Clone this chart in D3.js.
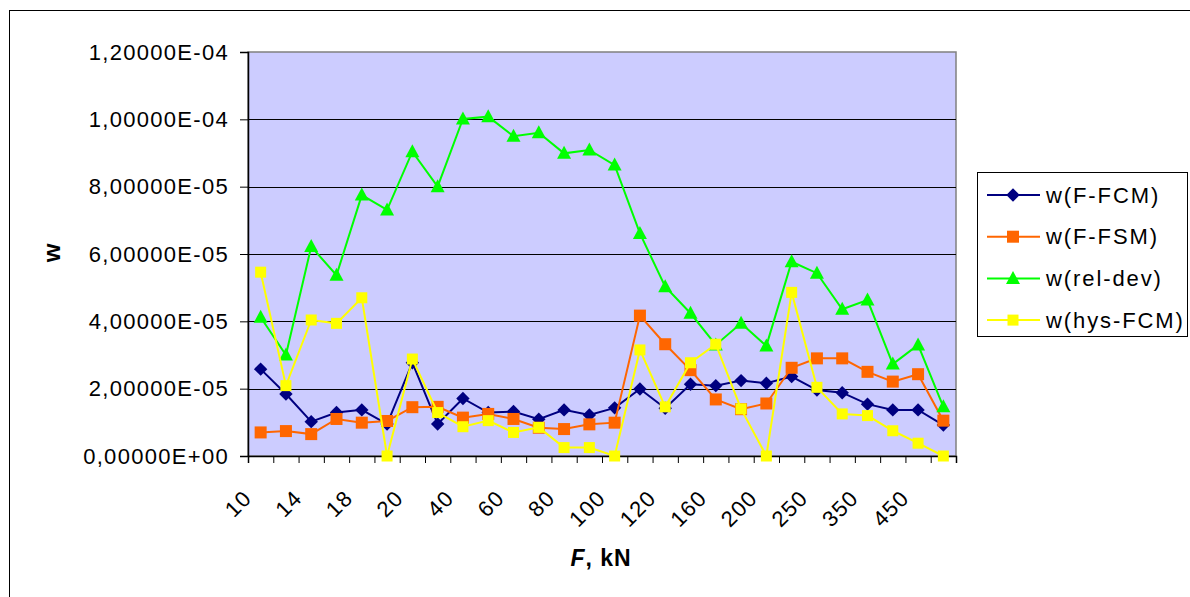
<!DOCTYPE html>
<html><head><meta charset="utf-8">
<script src="https://cdn.jsdelivr.net/npm/d3@7"></script>
<style>
body{margin:0;background:#fff;}
text{font-family:"Liberation Sans",Arial,sans-serif;}
</style>
</head><body>
<svg id="c" width="1190" height="597"></svg>
<script>
const categories = ["10","12","14","16","18","19","20","30","40","50","60","70","80","90","100","110","120","140","160","180","200","225","250","300","350","400","450","500"];
const wFFCM = [2.58e-5,1.84e-5,1.02e-5,1.29e-5,1.37e-5,0.95e-5,2.77e-5,0.95e-5,1.71e-5,1.29e-5,1.32e-5,1.09e-5,1.37e-5,1.22e-5,1.43e-5,1.99e-5,1.42e-5,2.13e-5,2.09e-5,2.24e-5,2.16e-5,2.36e-5,1.96e-5,1.88e-5,1.54e-5,1.37e-5,1.37e-5,0.92e-5];
const wFFSM = [0.70e-5,0.74e-5,0.65e-5,1.10e-5,0.99e-5,1.04e-5,1.45e-5,1.46e-5,1.14e-5,1.25e-5,1.10e-5,0.84e-5,0.80e-5,0.94e-5,0.99e-5,4.17e-5,3.32e-5,2.55e-5,1.68e-5,1.39e-5,1.56e-5,2.62e-5,2.90e-5,2.90e-5,2.50e-5,2.21e-5,2.43e-5,1.05e-5];
const wRelDev = [4.12e-5,3.00e-5,6.22e-5,5.37e-5,7.75e-5,7.31e-5,9.04e-5,8.00e-5,1.001e-4,1.008e-4,9.50e-5,9.60e-5,8.99e-5,9.09e-5,8.64e-5,6.61e-5,5.03e-5,4.24e-5,3.30e-5,3.94e-5,3.27e-5,5.77e-5,5.43e-5,4.36e-5,4.63e-5,2.73e-5,3.30e-5,1.46e-5];
const wHysFCM = [5.46e-5,2.09e-5,4.04e-5,3.94e-5,4.70e-5,0,2.88e-5,1.29e-5,0.87e-5,1.05e-5,0.70e-5,0.85e-5,0.25e-5,0.25e-5,0,3.15e-5,1.46e-5,2.77e-5,3.32e-5,1.40e-5,0,4.86e-5,2.04e-5,1.25e-5,1.20e-5,0.75e-5,0.38e-5,0];
const seriesNames = ["w(F-FCM)","w(F-FSM)","w(rel-dev)","w(hys-FCM)"];
const yTickValues = [0,2e-5,4e-5,6e-5,8e-5,1e-4,1.2e-4];
const yTickLabels = ["0,00000E+00","2,00000E-05","4,00000E-05","6,00000E-05","8,00000E-05","1,00000E-04","1,20000E-04"];

const series = [
  {name:seriesNames[0], values:wFFCM, color:"#000080", marker:"diamond"},
  {name:seriesNames[1], values:wFFSM, color:"#FF6600", marker:"square"},
  {name:seriesNames[2], values:wRelDev, color:"#00FF00", marker:"triangle"},
  {name:seriesNames[3], values:wHysFCM, color:"#FFFF00", marker:"squareSmall"}
];

const svg = d3.select("#c");
const L=248, R=956, T=52, B=456;
const x = d3.scaleBand().domain(d3.range(categories.length)).range([L,R]);
const xt = d3.scaleLinear().domain([0,categories.length]).range([L,R]);
const y = d3.scaleLinear().domain([0,1.2e-4]).range([B,T]);
const cx = i => x(i) + x.bandwidth()/2;

// outer border
svg.append("rect").attr("x",9.5).attr("y",10.5).attr("width",1200).attr("height",600)
  .attr("fill","#fff").attr("stroke","#000").attr("stroke-width",1);

// plot area
svg.append("rect").attr("x",L).attr("y",T).attr("width",R-L).attr("height",B-T)
  .attr("fill","#CCCCFF").attr("stroke","#808080").attr("stroke-width",1.5);

// gridlines
svg.append("g").selectAll("line").data(yTickValues.slice(1,-1)).join("line")
  .attr("x1",L).attr("x2",R).attr("y1",d=>Math.round(y(d))+0.5).attr("y2",d=>Math.round(y(d))+0.5)
  .attr("stroke","#000").attr("stroke-width",1);

// y axis
const yAxis = d3.axisLeft(y).tickValues(yTickValues).tickSize(8).tickPadding(11)
  .tickFormat((d,i)=>yTickLabels[i]);
const gy = svg.append("g").attr("transform",`translate(${L},0)`).call(yAxis);
gy.select(".domain").attr("stroke","#000").attr("stroke-width",1.5);
gy.selectAll(".tick line").attr("stroke","#000");
gy.selectAll(".tick text").attr("font-size",22).attr("letter-spacing","1.3px")
  .attr("fill","#000").style("font-family","'Liberation Sans',Arial,sans-serif");

// x axis ticks (category boundaries)
const xAxis = d3.axisBottom(xt).tickValues(d3.range(categories.length+1)).tickSize(7).tickFormat("");
const gx = svg.append("g").attr("transform",`translate(0,${B})`).call(xAxis);
gx.select(".domain").attr("stroke","#000").attr("stroke-width",1.5);
gx.selectAll(".tick line").attr("stroke","#000");

// x labels (every other category)
svg.append("g").selectAll("text").data(d3.range(0,categories.length,2)).join("text")
  .attr("transform",i=>`translate(${cx(i)-13},${B+38}) rotate(-45)`)
  .attr("text-anchor","end").attr("dy","0.35em")
  .attr("font-size",22).attr("letter-spacing","1.3px")
  .text(i=>categories[i]);

// markers
function marker(sel, type, color){
  if(type==="diamond"){
    sel.append("path").attr("d","M0,-6.7L6.7,0L0,6.7L-6.7,0Z").attr("fill",color);
  } else if(type==="square"){
    sel.append("rect").attr("x",-6).attr("y",-6).attr("width",12).attr("height",12).attr("fill",color);
  } else if(type==="squareSmall"){
    sel.append("rect").attr("x",-5.5).attr("y",-5.5).attr("width",11).attr("height",11).attr("fill",color);
  } else if(type==="triangle"){
    sel.append("path").attr("d","M0,-7.5L7,5.5L-7,5.5Z").attr("fill",color);
  }
}

const line = d3.line().x((d,i)=>cx(i)).y(d=>y(d));
series.forEach(s=>{
  const g = svg.append("g");
  g.append("path").datum(s.values).attr("d",line).attr("fill","none")
    .attr("stroke",s.color).attr("stroke-width",2);
  g.selectAll("g").data(s.values).join("g")
    .attr("transform",(d,i)=>`translate(${cx(i)},${y(d)})`)
    .each(function(){ marker(d3.select(this), s.marker, s.color); });
});

// axis titles
svg.append("text").attr("transform","translate(60,253) rotate(-90)")
  .attr("text-anchor","middle").attr("font-size",24).attr("font-weight","bold").text("w");
const xt2 = svg.append("text").attr("x",601).attr("y",566).attr("text-anchor","middle")
  .attr("font-size",23).attr("font-weight","bold").attr("letter-spacing","1px");
xt2.append("tspan").attr("font-style","italic").text("F");
xt2.append("tspan").text(", kN");

// legend
const lg = svg.append("g");
lg.append("rect").attr("x",977.5).attr("y",172.5).attr("width",210).attr("height",164)
  .attr("fill","#fff").attr("stroke","#000").attr("stroke-width",1);
series.forEach((s,k)=>{
  const yy = 195 + k*41.7;
  lg.append("line").attr("x1",987).attr("x2",1040).attr("y1",yy).attr("y2",yy)
    .attr("stroke",s.color).attr("stroke-width",2);
  const m = lg.append("g").attr("transform",`translate(1013,${yy})`);
  marker(m, s.marker, s.color);
  lg.append("text").attr("x",1046).attr("y",yy).attr("dy","0.35em")
    .attr("font-size",22).attr("letter-spacing","1.9px").text(s.name);
});
</script>
</body></html>
